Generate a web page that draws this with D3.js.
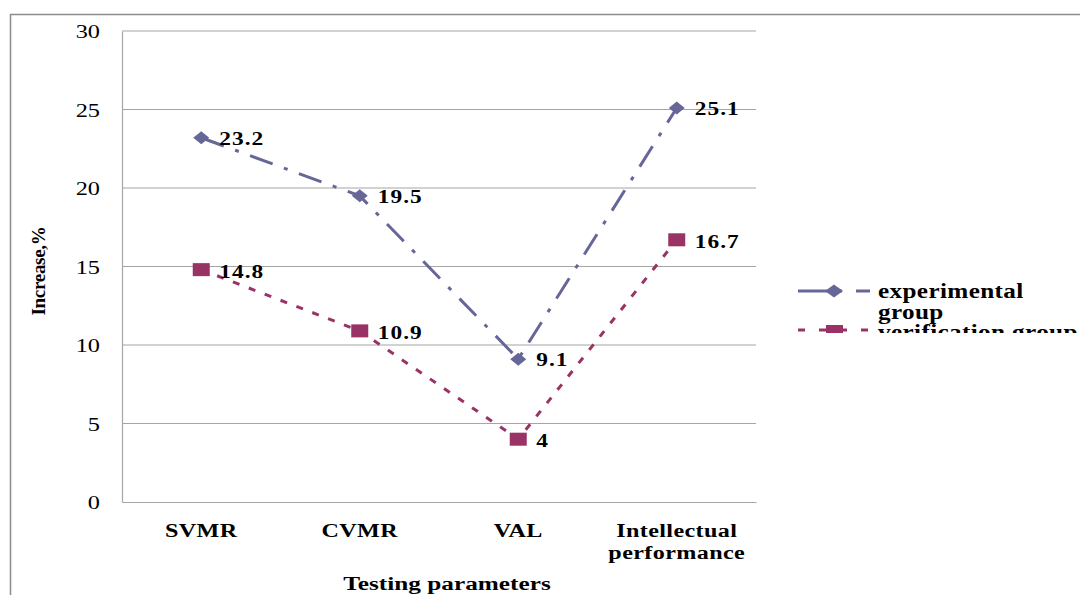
<!DOCTYPE html>
<html><head><meta charset="utf-8">
<script src="https://cdn.jsdelivr.net/npm/d3@7"></script>
<style>body{margin:0;background:#fff}svg{display:block}</style>
</head><body>
<svg id="c" width="1080" height="595"></svg>
<script>
const categories = [["SVMR"], ["CVMR"], ["VAL"], ["Intellectual", "performance"]];
const catKeys = ["SVMR", "CVMR", "VAL", "Intellectual performance"];
const experimental = [23.2, 19.5, 9.1, 25.1];
const verification = [14.8, 10.9, 4, 16.7];
const yTicks = [0, 5, 10, 15, 20, 25, 30];
const seriesNames = [["experimental", "group"], ["verification group"]];

const svg = d3.select("#c");
const serif = "'Liberation Serif','Times New Roman',serif";
const L = 122, R = 756, T = 31, B = 502;
const x = d3.scaleBand().domain(catKeys).range([L, R]);
const y = d3.scaleLinear().domain([0, 30]).range([B, T]);
const cx = d => x(d) + x.bandwidth() / 2;

// place text with a horizontal stretch around its anchor
function place(sel, fx, fy, sx) {
  sel.attr("x", 0).attr("y", 0)
    .attr("transform", (d, i) => `translate(${fx(d, i)},${fy(d, i)}) scale(${sx},1)`);
}

// outer frame
svg.append("rect").attr("x", 10.5).attr("y", 14.5).attr("width", 1100).attr("height", 700)
  .attr("fill", "none").attr("stroke", "#8c8c8c").attr("stroke-width", 1.5);

// gridlines
svg.append("g").selectAll("line").data(yTicks.filter(d => d > 0)).join("line")
  .attr("x1", L).attr("x2", R).attr("y1", d => y(d)).attr("y2", d => y(d))
  .attr("stroke", "#a6a6a6").attr("stroke-width", 1.2);

// y axis
const ya = svg.append("g").attr("transform", `translate(${L},0)`)
  .call(d3.axisLeft(y).tickValues(yTicks).tickSize(0).tickFormat(""));
ya.select(".domain").attr("stroke", "#a6a6a6").attr("stroke-width", 1.2);
svg.append("g").selectAll("text").data(yTicks).join("text")
  .call(place, () => 100, d => y(d) + 7, 1.35)
  .attr("text-anchor", "end").attr("font-family", serif).attr("font-size", 18)
  .attr("fill", "#000").text(d => d);

// x axis
const xa = svg.append("g").attr("transform", `translate(0,${B})`)
  .call(d3.axisBottom(x).tickSize(0).tickFormat(""));
xa.select(".domain").attr("stroke", "#a6a6a6").attr("stroke-width", 1.2);
svg.append("g").selectAll("text").data(categories).join("text")
  .call(place, (d, i) => cx(catKeys[i]), () => 537, 1.27)
  .attr("text-anchor", "middle").attr("font-family", serif).attr("font-weight", "bold")
  .attr("font-size", 19).attr("letter-spacing", 0.3)
  .each(function(d) {
    const t = d3.select(this);
    d.forEach((s, j) => t.append("tspan").attr("x", 0).attr("dy", j ? 22 : 0).text(s));
  });

// axis titles
svg.append("text").datum(0).call(place, () => 447, () => 590, 1.33)
  .attr("text-anchor", "middle")
  .attr("font-family", serif).attr("font-weight", "bold").attr("font-size", 19)
  .text("Testing parameters");
svg.append("text").attr("transform", "translate(45,271) rotate(-90)").attr("text-anchor", "middle")
  .attr("font-family", serif).attr("font-weight", "bold").attr("font-size", 19)
  .attr("letter-spacing", -0.3).text("Increase,%");

const line = d3.line().x((d, i) => cx(catKeys[i])).y(d => y(d));
const cExp = "#666699", cVer = "#993366";

svg.append("path").datum(experimental).attr("d", line).attr("fill", "none")
  .attr("stroke", cExp).attr("stroke-width", 3).attr("stroke-dasharray", "24,12,4,12");
svg.append("path").datum(verification).attr("d", line).attr("fill", "none")
  .attr("stroke", cVer).attr("stroke-width", 3).attr("stroke-dasharray", "7,10");

const diamondPath = (w, h) => `M${-w},0L0,${-h}L${w},0L0,${h}Z`;
svg.append("g").selectAll("path").data(experimental).join("path")
  .attr("d", diamondPath(8, 6.5))
  .attr("transform", (d, i) => `translate(${cx(catKeys[i])},${y(d)})`)
  .attr("fill", cExp);
svg.append("g").selectAll("rect").data(verification).join("rect")
  .attr("x", (d, i) => cx(catKeys[i]) - 8.5).attr("y", d => y(d) - 6.5)
  .attr("width", 17).attr("height", 13).attr("fill", cVer);

const labelStyle = s => s.attr("font-family", serif).attr("font-weight", "bold")
  .attr("font-size", 18).attr("letter-spacing", 0.8).attr("fill", "#000");
svg.append("g").selectAll("text").data(experimental).join("text")
  .call(place, (d, i) => cx(catKeys[i]) + 18, d => y(d) + 7, 1.3)
  .text(d => d).call(labelStyle);
svg.append("g").selectAll("text").data(verification).join("text")
  .call(place, (d, i) => cx(catKeys[i]) + 18, d => y(d) + 8, 1.3)
  .text(d => d).call(labelStyle);

// legend
svg.append("defs").append("clipPath").attr("id", "lg")
  .append("rect").attr("x", 780).attr("y", 270).attr("width", 300).attr("height", 63);
const lg = svg.append("g").attr("clip-path", "url(#lg)");
const legendItems = [
  {name: seriesNames[0], color: cExp, dash: "44,14,14", y: 291, ty: 298, marker: "diamond"},
  {name: seriesNames[1], color: cVer, dash: "7,14", y: 330, ty: 339, marker: "square"}
];
legendItems.forEach(it => {
  lg.append("line").attr("x1", 798).attr("x2", 870).attr("y1", it.y).attr("y2", it.y)
    .attr("stroke", it.color).attr("stroke-width", 3).attr("stroke-dasharray", it.dash);
  if (it.marker === "diamond") {
    lg.append("path").attr("d", diamondPath(9, 6.5))
      .attr("transform", `translate(834,${it.y})`).attr("fill", it.color);
  } else {
    lg.append("rect").attr("x", 826).attr("y", it.y - 5).attr("width", 17).attr("height", 10).attr("fill", it.color);
  }
  it.name.forEach((s, j) => {
    lg.append("text").datum(s).call(place, () => 878, () => it.ty + j * 21, 1.2)
      .attr("font-family", serif).attr("font-weight", "bold").attr("font-size", 21)
      .attr("letter-spacing", 0.3).text(s);
  });
});
</script>
</body></html>
